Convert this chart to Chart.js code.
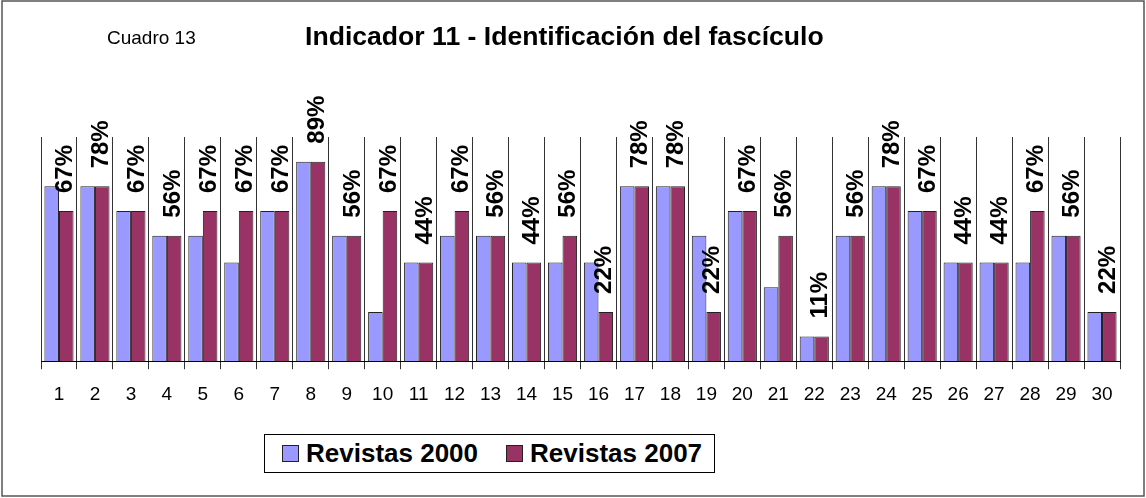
<!DOCTYPE html>
<html>
<head>
<meta charset="utf-8">
<script src="https://cdn.jsdelivr.net/npm/chart.js@4.4.1/dist/chart.umd.min.js"></script>
<style>
  body { margin: 0; background: #fff; }
  #wrap { position: relative; width: 1146px; height: 498px; font-family: "Liberation Sans", Arial, sans-serif; }
  #chart { position: absolute; left: 0; top: 0; }
  #legend {
    position: absolute; left: 264px; top: 434px; width: 451px; height: 39px;
    box-sizing: border-box; border: 1px solid #000; background: #fff;
    display: flex; align-items: center; padding-left: 17px; white-space: nowrap;
  }
  .item { display: flex; align-items: center; margin-right: 28px; font-weight: bold; font-size: 26px; color: #000; white-space: nowrap; }
  .swatch { width: 17px; height: 17px; box-sizing: border-box; border: 1px solid #222; margin-right: 7px; flex: none; }
</style>
</head>
<body>
<div id="wrap">
  <canvas id="chart" width="1146" height="498"></canvas>
  <div id="legend"></div>
</div>
<script>
/* DATA */
const categories = ['1','2','3','4','5','6','7','8','9','10','11','12','13','14','15',
  '16','17','18','19','20','21','22','23','24','25','26','27','28','29','30']
const revistas2000 = [78,78,67,56,56,44,67,89,56,22,44,56,56,44,44,44,78,78,56,67,33,11,56,78,67,44,44,44,56,22]
const revistas2007 = [67,78,67,56,67,67,67,89,56,67,44,67,56,44,56,22,78,78,22,67,56,11,56,78,67,44,44,67,56,22]

const chartTitle = 'Indicador 11 - Identificación del fascículo'
const chartNote = 'Cuadro 13'

const FONT = '"Liberation Sans", Arial, sans-serif'

// frame, title and note
const decorPlugin = {
  id: 'decor',
  beforeDraw(chart) {
    const ctx = chart.ctx
    ctx.save()
    ctx.fillStyle = '#fff'
    ctx.fillRect(0, 0, chart.width, chart.height)
    ctx.strokeStyle = '#555'
    ctx.lineWidth = 1.5
    ctx.strokeRect(2, 1, chart.width - 4, chart.height - 3)
    ctx.fillStyle = '#000'
    ctx.textBaseline = 'alphabetic'
    ctx.textAlign = 'left'
    ctx.font = '19px ' + FONT
    ctx.fillText(chartNote, 107, 44)
    ctx.font = 'bold 26.6px ' + FONT
    ctx.fillText(chartTitle, 305, 45)
    ctx.restore()
  }
}

// rotated labels above the 2007 bars
const labelPlugin = {
  id: 'barLabels',
  afterDatasetsDraw(chart) {
    const ctx = chart.ctx
    const meta = chart.getDatasetMeta(1)
    ctx.save()
    ctx.fillStyle = '#000'
    ctx.font = 'bold 24px ' + FONT
    ctx.textAlign = 'left'
    ctx.textBaseline = 'middle'
    meta.data.forEach((bar, i) => {
      ctx.save()
      ctx.translate(bar.x - 1, bar.y - 18)
      ctx.rotate(-Math.PI / 2)
      ctx.fillText(revistas2007[i] + '%', 0, 0)
      ctx.restore()
    })
    ctx.restore()
  }
}

const chart = new Chart(document.getElementById('chart'), {
  type: 'bar',
  data: {
    labels: categories,
    datasets: [
      { label: 'Revistas 2000', data: revistas2000, backgroundColor: '#9999FF', borderColor: '#222', borderWidth: 1 },
      { label: 'Revistas 2007', data: revistas2007, backgroundColor: '#993366', borderColor: '#222', borderWidth: 1 }
    ]
  },
  options: {
    responsive: false,
    animation: false,
    layout: { padding: { top: 137, left: 41, right: 26, bottom: 78 } },
    datasets: { bar: { categoryPercentage: 0.81, barPercentage: 1 } },
    plugins: { legend: { display: false }, tooltip: { enabled: false } },
    scales: {
      x: {
        grid: { color: '#333', lineWidth: 1, tickLength: 8, offset: true },
        border: { color: '#000', width: 1 },
        ticks: { color: '#000', font: { family: FONT, size: 19 }, padding: 14, maxRotation: 0, autoSkip: false }
      },
      y: { display: false, min: 0, max: 100 }
    }
  },
  plugins: [decorPlugin, labelPlugin]
})

// html legend from the datasets
const legendEl = document.getElementById('legend')
chart.data.datasets.forEach(ds => {
  const item = document.createElement('div')
  item.className = 'item'
  const sw = document.createElement('span')
  sw.className = 'swatch'
  sw.style.background = ds.backgroundColor
  item.appendChild(sw)
  item.appendChild(document.createTextNode(ds.label))
  legendEl.appendChild(item)
})
</script>
</body>
</html>
